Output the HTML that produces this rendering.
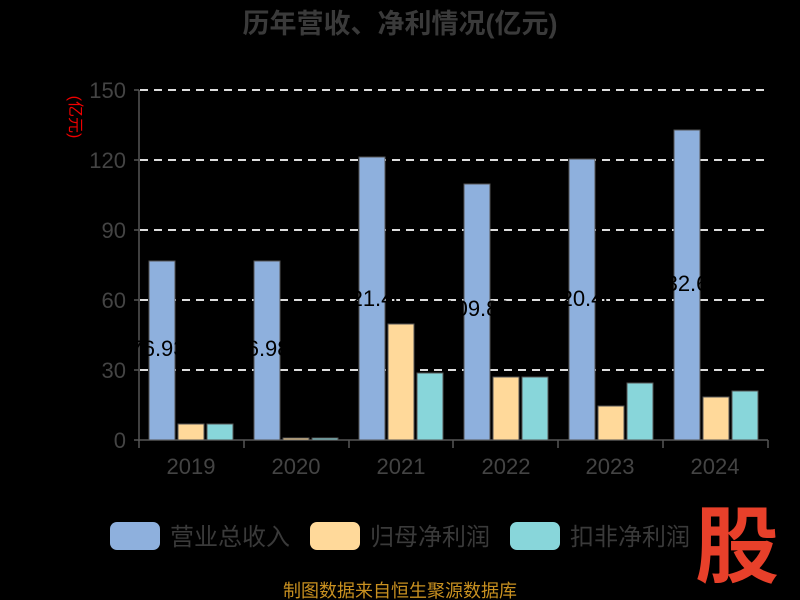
<!DOCTYPE html>
<html><head><meta charset="utf-8"><style>
html,body{margin:0;padding:0;background:#000;}
svg{display:block;font-family:"Liberation Sans","Noto Sans CJK SC",sans-serif;}
</style></head><body>
<svg width="800" height="600" xmlns="http://www.w3.org/2000/svg">
<rect width="800" height="600" fill="#000"/>
<text x="400" y="33" text-anchor="middle" font-size="27" font-weight="bold" fill="#3a3a3a">历年营收、净利情况(亿元)</text>
<text transform="translate(70,117) rotate(90)" text-anchor="middle" font-size="16" fill="#e00">(亿元)</text>
<g stroke="#ddd" stroke-width="2" stroke-dasharray="8,6">
<line x1="140" y1="90" x2="768" y2="90"/>
<line x1="140" y1="160" x2="768" y2="160"/>
<line x1="140" y1="230" x2="768" y2="230"/>
<line x1="140" y1="300" x2="768" y2="300"/>
<line x1="140" y1="370" x2="768" y2="370"/>
</g>
<g font-size="22" fill="#444" text-anchor="end">
<text x="126" y="98">150</text><text x="126" y="168">120</text><text x="126" y="238">90</text>
<text x="126" y="308">60</text><text x="126" y="378">30</text><text x="126" y="448">0</text>
</g>
<g stroke="#555" stroke-width="1.5">
<line x1="139" y1="90" x2="139" y2="441"/>
<line x1="134" y1="90" x2="139" y2="90"/><line x1="134" y1="160" x2="139" y2="160"/><line x1="134" y1="230" x2="139" y2="230"/><line x1="134" y1="300" x2="139" y2="300"/><line x1="134" y1="370" x2="139" y2="370"/><line x1="134" y1="440" x2="139" y2="440"/>
<line x1="139" y1="440" x2="768" y2="440"/>
<line x1="139" y1="440" x2="139" y2="448"/><line x1="244" y1="440" x2="244" y2="448"/><line x1="349" y1="440" x2="349" y2="448"/><line x1="453" y1="440" x2="453" y2="448"/><line x1="558" y1="440" x2="558" y2="448"/><line x1="663" y1="440" x2="663" y2="448"/><line x1="768" y1="440" x2="768" y2="448"/>
</g>
<g stroke="#555" stroke-width="1">
<rect x="149" y="261" width="26" height="179" fill="#8eb0dd"/>
<rect x="178" y="424" width="26" height="16" fill="#ffd99a"/>
<rect x="207" y="424" width="26" height="16" fill="#88d6da"/>
<rect x="254" y="261" width="26" height="179" fill="#8eb0dd"/>
<rect x="283" y="438" width="26" height="2" fill="#ffd99a"/>
<rect x="312" y="438" width="26" height="2" fill="#88d6da"/>
<rect x="359" y="157" width="26" height="283" fill="#8eb0dd"/>
<rect x="388" y="324" width="26" height="116" fill="#ffd99a"/>
<rect x="417" y="373" width="26" height="67" fill="#88d6da"/>
<rect x="464" y="184" width="26" height="256" fill="#8eb0dd"/>
<rect x="493" y="377" width="26" height="63" fill="#ffd99a"/>
<rect x="522" y="377" width="26" height="63" fill="#88d6da"/>
<rect x="569" y="159" width="26" height="281" fill="#8eb0dd"/>
<rect x="598" y="406" width="26" height="34" fill="#ffd99a"/>
<rect x="627" y="383" width="26" height="57" fill="#88d6da"/>
<rect x="674" y="130" width="26" height="310" fill="#8eb0dd"/>
<rect x="703" y="397" width="26" height="43" fill="#ffd99a"/>
<rect x="732" y="391" width="26" height="49" fill="#88d6da"/>
</g>
<g font-size="22" fill="#000" text-anchor="middle">
<text x="158" y="356">76.93</text><text x="262" y="356">76.98</text>
<text x="372" y="306">121.40</text><text x="477" y="316">109.80</text>
<text x="582" y="306">120.40</text><text x="687" y="291">132.60</text>
</g>
<g font-size="22" fill="#444" text-anchor="middle">
<text x="191" y="474">2019</text><text x="296" y="474">2020</text><text x="401" y="474">2021</text>
<text x="506" y="474">2022</text><text x="610" y="474">2023</text><text x="715" y="474">2024</text>
</g>
<rect x="110" y="522" width="50" height="28" rx="7" fill="#8eb0dd"/>
<text x="170" y="545" font-size="24" fill="#3a3a3a">营业总收入</text>
<rect x="310" y="522" width="50" height="28" rx="7" fill="#ffd99a"/>
<text x="370" y="545" font-size="24" fill="#3a3a3a">归母净利润</text>
<rect x="510" y="522" width="50" height="28" rx="7" fill="#88d6da"/>
<text x="570" y="545" font-size="24" fill="#3a3a3a">扣非净利润</text>
<text x="737" y="576" text-anchor="middle" font-size="84" font-weight="bold" fill="#e8402a">股</text>
<text x="400" y="597" text-anchor="middle" font-size="18" fill="#c89020">制图数据来自恒生聚源数据库</text>
</svg>
</body></html>
